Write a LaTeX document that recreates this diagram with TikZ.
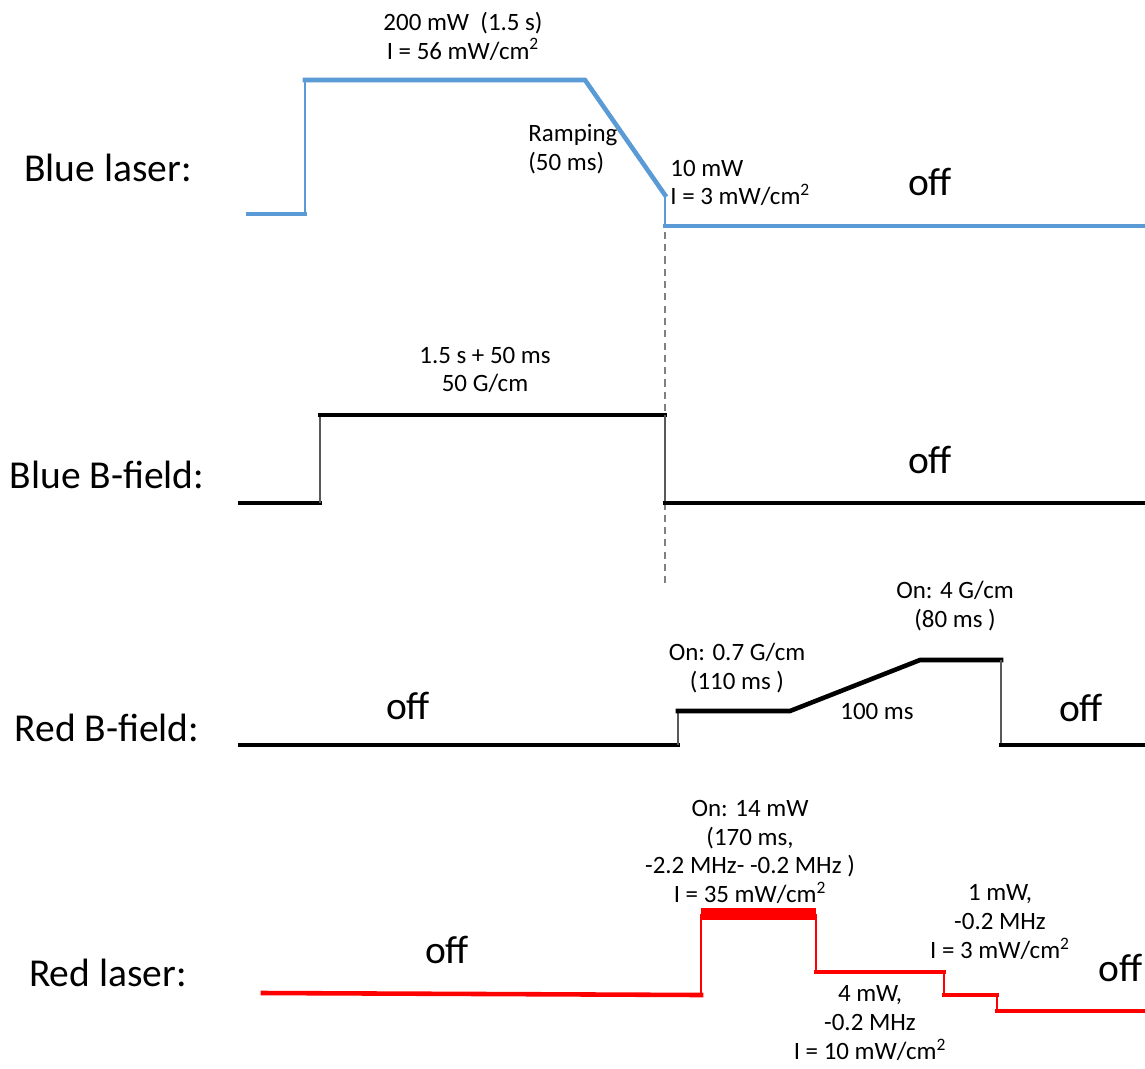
\documentclass[tikz,border=0pt]{standalone}
\usepackage{fontspec}
\setmainfont{Carlito}
\usetikzlibrary{calc, positioning}

\definecolor{azul}{RGB}{91,155,213}
\tikzset{
  senal/.style={line width=2.6pt, line cap=rect},
  salto/.style={line width=1.1pt},
  canal/.style={font=\fontsize{22.5}{26}\selectfont, inner sep=0pt},
  nota/.style={font=\fontsize{14.2}{16.4}\selectfont, align=center, inner sep=0pt},
  apagado/.style={font=\fontsize{22.5}{26}\selectfont, inner sep=0pt}
}

\begin{document}
\begin{tikzpicture}[x=0.02cm, y=-0.02cm]
\useasboundingbox (0,0) rectangle (1145,1068);
% Secuencia temporal: laser azul, campo B azul, campo B rojo, laser rojo

% Laser azul
\coordinate (BL0) at (248,214);
\coordinate (BL1) at (305,214);
\coordinate (BL2) at (305,80);
\coordinate (BL3) at (585,80);
\coordinate (BL4) at (665,195);
\coordinate (BL5) at (665,226);
\coordinate (BL6) at (1145,226);

\draw[gray, line width=0.6pt, dash pattern=on 4pt off 3pt] (BL4) -- (665,585);
\draw[senal, azul] (BL0) -- (BL1);
\draw[salto, azul] (BL1) -- (BL2);
\draw[senal, azul] (BL2) -- (BL3) -- (BL4);
\draw[salto, azul] (BL4) -- (BL5);
\draw[senal, azul] (BL5) -- (BL6);

\node[canal] (tBL) at (108,168) {Blue laser:};
\node[nota] (pBL) at (463,36) {200 mW\ \ (1.5 s)\\I = 56 mW/cm\textsuperscript{2}};
\node[nota, anchor=west, align=left] (rBL) at (528,149) {Ramping\\(50 ms)};
\node[nota, anchor=west, align=left] (bBL) at (670,183) {10 mW\\I = 3 mW/cm\textsuperscript{2}};
\node[apagado] (oBL) at (930,182) {off};

% Campo B azul
\coordinate (BB0) at (240,503);
\coordinate (BB1) at (320,503);
\coordinate (BB2) at (320,415);
\coordinate (BB3) at (665,415);
\coordinate (BB4) at (665,503);
\coordinate (BB5) at (1145,503);

\draw[senal] (BB0) -- (BB1);
\draw[salto, gray!70!black] (BB1) -- (BB2);
\draw[senal] (BB2) -- (BB3);
\draw[salto, gray!70!black] (BB3) -- (BB4);
\draw[senal] (BB4) -- (BB5);

\node[canal] (tBB) at (107,475) {Blue B-field:};
\node[nota] (pBB) at (485,370) {1.5 s + 50 ms\\50 G/cm};
\node[apagado] (oBB) at (930,460) {off};

% Campo B rojo
\coordinate (RB0) at (240,745);
\coordinate (RB1) at (678,745);
\coordinate (RB2) at (678,711);
\coordinate (RB3) at (790,711);
\coordinate (RB4) at (920,660);
\coordinate (RB5) at (1001,660);
\coordinate (RB6) at (1001,745);
\coordinate (RB7) at (1145,745);

\draw[senal] (RB0) -- (RB1);
\draw[salto, gray!70!black] (RB1) -- (RB2);
\draw[senal] (RB2) -- (RB3) -- (RB4) -- (RB5);
\draw[salto, gray!70!black] (RB5) -- (RB6);
\draw[senal] (RB6) -- (RB7);

\node[canal] (tRB) at (107,728) {Red B-field:};
\node[apagado] (oRB) at (408,706) {off};
\node[nota] (pRB) at (737,668) {On: 0.7 G/cm\\(110 ms )};
\node[nota] (mRB) at (877,711) {100 ms};
\node[nota] (qRB) at (955,606) {On: 4 G/cm\\(80 ms )};
\node[apagado] (fRB) at (1081,708) {off};

% Laser rojo
\coordinate (RL0) at (263,993);
\coordinate (RL1) at (701,995);
\coordinate (RL2) at (701,914);
\coordinate (RL3) at (816,914);
\coordinate (RL4) at (816,972);
\coordinate (RL5) at (944,972);
\coordinate (RL6) at (944,995);
\coordinate (RL7) at (997,995);
\coordinate (RL8) at (997,1011);
\coordinate (RL9) at (1145,1011);

\draw[senal, red] (RL0) -- (RL1);
\draw[salto, red, line width=1.6pt] (RL1) -- (RL2);
\fill[red] ($(RL2)+(0,-6)$) rectangle ($(RL3)+(0,6)$);
\draw[salto, red, line width=1.6pt] (RL3) -- (RL4);
\draw[senal, red] (RL4) -- (RL5);
\draw[salto, red, line width=1.6pt] (RL5) -- (RL6);
\draw[senal, red] (RL6) -- (RL7);
\draw[salto, red, line width=1.6pt] (RL7) -- (RL8);
\draw[senal, red] (RL8) -- (RL9);

\node[canal] (tRL) at (108,973) {Red laser:};
\node[apagado] (oRL) at (447,950) {off};
\node[nota] (pRL) at (750,852) {On: 14 mW\\(170 ms,\\-2.2 MHz- -0.2 MHz )\\I = 35 mW/cm\textsuperscript{2}};
\node[nota] (aRL) at (1000,922) {1 mW,\\-0.2 MHz\\I = 3 mW/cm\textsuperscript{2}};
\node[nota] (bRL) at (870,1023) {4 mW,\\-0.2 MHz\\I = 10 mW/cm\textsuperscript{2}};
\node[apagado, anchor=west] (fRL) at (1098,968) {off};
\end{tikzpicture}
\end{document}
